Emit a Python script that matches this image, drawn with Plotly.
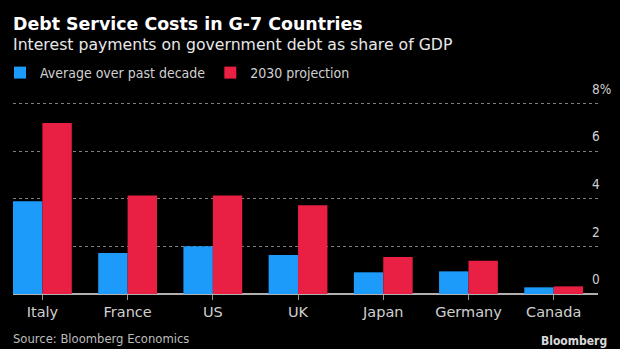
import plotly.graph_objects as go

countries = ["Italy", "France", "US", "UK", "Japan", "Germany", "Canada"]
avg_past_decade = [3.89, 1.72, 2.0, 1.64, 0.91, 0.95, 0.28]
proj_2030 = [7.18, 4.13, 4.13, 3.72, 1.55, 1.40, 0.32]
series_names = ["Average over past decade", "2030 projection"]
y_tickvals = [0, 2, 4, 6, 8]
y_ticktext = ["0", "2", "4", "6", "8%"]

BLUE = "#1d9bfb"
RED = "#ea1f44"
FONT = "DejaVu Sans Condensed"
FONT_W = "DejaVu Sans"

W, H = 620, 349
L, R, T, B = 13, 22, 100, 55
PW, PH = W - L - R, H - T - B

def px(x):
    return (x - L) / PW

def py(y):
    return (H - B - y) / PH

fig = go.Figure()
for vals, name, col in [(avg_past_decade, series_names[0], BLUE), (proj_2030, series_names[1], RED)]:
    fig.add_trace(go.Bar(x=countries, y=vals, name=name, showlegend=False,
                         marker=dict(color=col, line=dict(width=0))))
# legend entries with small square symbols
for name, col in [(series_names[0], BLUE), (series_names[1], RED)]:
    fig.add_trace(go.Scatter(x=[None], y=[None], mode="markers", name=name,
                             marker=dict(symbol="square", size=9, color=col)))

fig.update_layout(
    width=W, height=H,
    margin=dict(l=L, r=R, t=T, b=B, autoexpand=False),
    paper_bgcolor="black", plot_bgcolor="black",
    barmode="group", bargap=0.31, bargroupgap=0,
    font=dict(family=FONT, color="#cfcfcf", size=13),
    showlegend=True,
    legend=dict(orientation="h", xref="container", yref="container",
                x=-14 / W, xanchor="left", y=1 - 73 / H, yanchor="middle",
                font=dict(size=14, color="#d0d0d0", family=FONT),
                itemwidth=30, bgcolor="rgba(0,0,0,0)", traceorder="normal",
                itemsizing="constant"),
    xaxis=dict(range=[-0.345, 6.52], showgrid=False, zeroline=False,
               showline=False, ticks="outside", ticklen=5, tickcolor="#9a9a9a",
               tickwidth=1, tickfont=dict(size=14.5, color="#d0d0d0", family=FONT_W)),
    yaxis=dict(range=[0, 8.14], side="right", tickvals=y_tickvals, ticktext=y_ticktext,
               showgrid=True, gridcolor="#808080", griddash="dot", gridwidth=1,
               zeroline=True, zerolinecolor="#b0b0b0", zerolinewidth=1.5,
               ticks="", ticklabelposition="outside top", ticklabelstandoff=-7,
               ticklabelshift=-5, tickfont=dict(size=13.5, color="#d0d0d0")),
    annotations=[
        dict(text="<b>Debt Service Costs in G-7 Countries</b>", x=px(11), y=py(23.5),
             xref="paper", yref="paper", xanchor="left", yanchor="middle",
             showarrow=False, font=dict(size=17.4, color="white", family=FONT_W)),
        dict(text="Interest payments on government debt as share of GDP", x=px(11), y=py(44.5),
             xref="paper", yref="paper", xanchor="left", yanchor="middle",
             showarrow=False, font=dict(size=15.7, color="#e8e8e8", family=FONT_W)),
        dict(text="Source: Bloomberg Economics", x=px(11), y=py(338),
             xref="paper", yref="paper", xanchor="left", yanchor="middle",
             showarrow=False, font=dict(size=12.9, color="#bdbdbd", family=FONT)),
        dict(text="<b>Bloomberg</b>", x=px(609), y=py(341),
             xref="paper", yref="paper", xanchor="right", yanchor="middle",
             showarrow=False, font=dict(size=12, color="#d8d8d8", family=FONT)),
    ],
)

fig.write_html("out.html")
